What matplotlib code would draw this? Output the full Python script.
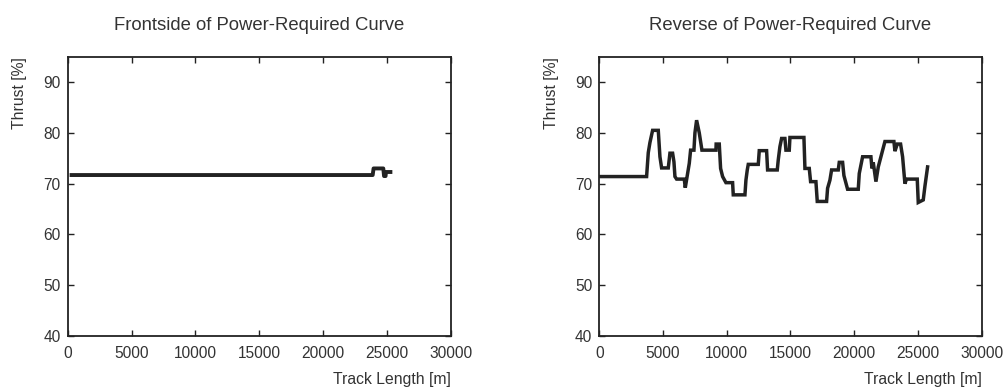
import matplotlib
matplotlib.use("Agg")
import matplotlib.pyplot as plt

plt.rcParams['font.family'] = ['Liberation Sans', 'DejaVu Sans']

# Frontside: thrust holds nearly constant
front_x = [150, 23890, 23960, 24720, 24780, 24900, 24930, 25430]
front_y = [71.7, 71.7, 73.0, 73.0, 71.5, 71.5, 72.3, 72.3]

# Reverse: thrust varies along the track
rev_x = [0, 3713, 3844, 3975, 4184, 4629, 4759, 4890, 5413, 5544, 5753, 5858,
         5936, 6067, 6668, 6747, 6930, 7061, 7165, 7427, 7505, 7636, 7845, 8054,
         9153, 9170, 9414, 9519, 9676, 9937, 10460, 10512, 11428, 11506, 11611,
         11689, 12474, 12552, 13127, 13206, 13964, 14043, 14173, 14304, 14566,
         14644, 14906, 14958, 16056, 16135, 16475, 16579, 16997, 17102, 17834,
         17913, 18096, 18226, 18750, 18828, 19090, 19194, 19482, 20319, 20397,
         20659, 21312, 21391, 21495, 21705, 21888, 22149, 22411, 23117, 23196,
         23379, 23640, 23797, 23980, 24100, 24947, 25026, 25418, 25549, 25758]
rev_y = [71.4, 71.4, 76.1, 78.1, 80.5, 80.5, 75.3, 73.1, 73.1, 76.0, 76.0, 74.3,
         71.4, 70.9, 70.9, 69.2, 72.0, 74.0, 76.6, 76.6, 80.0, 82.5, 80.0, 76.6,
         76.6, 77.8, 77.8, 73.0, 71.4, 70.2, 70.2, 67.8, 67.8, 70.7, 72.7,
         73.8, 73.8, 76.5, 76.5, 72.7, 72.7, 74.7, 77.3, 78.9, 78.9,
         76.6, 76.6, 79.1, 79.1, 73.0, 73.0, 70.4, 70.4, 66.5, 66.5,
         69.1, 70.7, 72.7, 72.7, 74.2, 74.2, 71.6, 68.9, 68.9, 72.0,
         75.3, 75.3, 73.0, 74.2, 70.4, 73.3, 75.8, 78.3, 78.3, 76.4,
         77.8, 77.8, 75.3, 70.0, 70.9, 70.9, 66.3, 66.8, 69.5, 73.3]

titles = ["Frontside of Power-Required Curve", "Reverse of Power-Required Curve"]
x_ticks = [0, 5000, 10000, 15000, 20000, 25000, 30000]
y_ticks = [40, 50, 60, 70, 80, 90]

line_col = '#222222'
text_col = '#333333'

fig = plt.figure(figsize=(10.06, 3.89), dpi=100)
ax1 = fig.add_axes([0.0673, 0.1362, 0.3807, 0.718])
ax2 = fig.add_axes([0.5957, 0.1362, 0.3801, 0.718])

ax1.plot(front_x, front_y, color=line_col, lw=2.8, solid_capstyle='butt')
ax2.plot(rev_x, rev_y, color=line_col, lw=2.5, solid_joinstyle='miter')

for ax, title in zip([ax1, ax2], titles):
    ax.set_xlim(0, 30000)
    ax.set_ylim(40, 95)
    ax.set_xticks(x_ticks)
    ax.set_yticks(y_ticks)
    ax.tick_params(direction='in', top=True, right=True, length=4, width=1,
                   labelsize=11.2, labelcolor=text_col, color=line_col)
    ax.tick_params(axis='x', pad=7)
    ax.tick_params(axis='y', pad=5)
    for sp in ax.spines.values():
        sp.set_color(line_col)
        sp.set_linewidth(1.3)
    ax.set_title(title, fontsize=13.3, color=text_col, pad=19)
    ax.set_xlabel("Track Length [m]", loc='right', fontsize=11.3, color=text_col)
    ax.xaxis.set_label_coords(1.0, -0.13)
    ax.set_ylabel("Thrust [%]", loc='top', fontsize=11.3, color=text_col)
    ax.yaxis.set_label_coords(-0.105, 1.0)

fig.savefig("out.png", dpi=100)
